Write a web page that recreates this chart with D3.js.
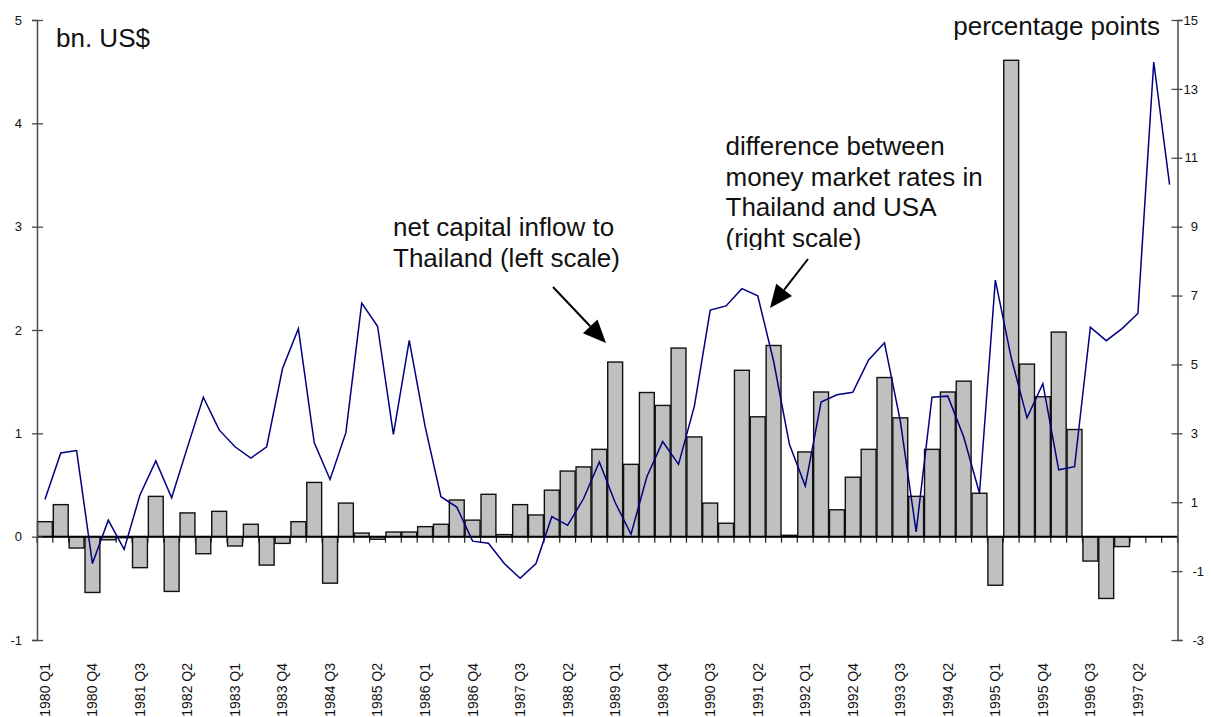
<!DOCTYPE html>
<html>
<head>
<meta charset="utf-8">
<script src="https://cdn.jsdelivr.net/npm/d3@7"></script>
<style>
  html, body { margin: 0; padding: 0; background: #fff; }
  svg { display: block; font-family: "Liberation Sans", Arial, Helvetica, sans-serif; }
</style>
</head>
<body>
<svg id="chart" width="1211" height="717"></svg>
<script>
// ---------------- data ----------------
const years = [1980, 1981, 1982, 1983, 1984, 1985, 1986, 1987, 1988,
               1989, 1990, 1991, 1992, 1993, 1994, 1995, 1996, 1997];
const quarterNames = ["Q1", "Q2", "Q3", "Q4"];
const categories = years.flatMap(y => quarterNames.map(q => y + " " + q));

// net capital inflow to Thailand, bn. US$ (left scale)
const capitalInflow = [
  0.145, 0.31, -0.11, -0.54,
  -0.03, -0.01, -0.30, 0.39,
  -0.53, 0.23, -0.165, 0.245,
  -0.09, 0.12, -0.275, -0.065,
  0.145, 0.525, -0.45, 0.325,
  0.035, -0.025, 0.045, 0.045,
  0.097, 0.12, 0.355, 0.16,
  0.41, 0.02, 0.31, 0.21,
  0.45, 0.635, 0.675, 0.845,
  1.69, 0.70, 1.395, 1.27,
  1.825, 0.965, 0.325, 0.13,
  1.61, 1.16, 1.85, 0.013,
  0.82, 1.40, 0.26, 0.575,
  0.845, 1.54, 1.15, 0.39,
  0.845, 1.40, 1.505, 0.42,
  -0.47, 4.61, 1.67, 1.354,
  1.98, 1.037, -0.236, -0.598,
  -0.096, 0, 0, 0
];

// difference between money market rates in Thailand and USA, percentage points (right scale)
const rateDifference = [
  1.08, 2.43, 2.5, -0.78,
  0.48, -0.37, 1.21, 2.2,
  1.13, 2.6, 4.05, 3.1,
  2.61, 2.28, 2.61, 4.88,
  6.04, 2.73, 1.66, 3.02,
  6.78, 6.11, 2.97, 5.7,
  3.2, 1.16, 0.86, -0.13,
  -0.19, -0.78, -1.21, -0.78,
  0.58, 0.33, 1.1, 2.17,
  0.99, 0.07, 1.74, 2.76,
  2.1, 3.79, 6.58, 6.7,
  7.2, 6.99, 5.1, 2.68,
  1.47, 3.91, 4.12, 4.19,
  5.13, 5.63, 3.36, 0.14,
  4.05, 4.08, 2.9, 1.26,
  7.45, 5.2, 3.45, 4.44,
  1.94, 2.03, 6.08, 5.69,
  6.04, 6.48, 13.78, 10.22
];

const leftTicks = [-1, 0, 1, 2, 3, 4, 5];
const rightTicks = [-3, -1, 1, 3, 5, 7, 9, 11, 13, 15];
const leftUnit = "bn. US$";
const rightUnit = "percentage points";
const annotationBars = ["net capital inflow to", "Thailand (left scale)"];
const annotationLine = ["difference between", "money market rates in", "Thailand and USA", "(right scale)"];

// ---------------- layout ----------------
const svg = d3.select("#chart");
const X0 = 37, X1 = 1177.5, Y0 = 20, Y1 = 640;
const axisColor = "#4a4a4a";
const plainNumber = d => String(d);   // hyphen-minus as in the original

const x = d3.scaleBand().domain(categories).range([X0, X1]).padding(0);
const xBar = d3.scaleBand().domain(categories).range([X0, X1]).paddingInner(0.06).paddingOuter(0.03);
const yL = d3.scaleLinear().domain([-1, 5]).range([Y1, Y0]);
const yR = d3.scaleLinear().domain([-3, 15]).range([Y1, Y0]);

const rows = categories.map((c, i) => ({ c, i, bar: capitalInflow[i], rate: rateDifference[i] }));

// bars
svg.append("g").selectAll("rect")
  .data(rows.filter(d => d.bar !== 0))
  .join("rect")
  .attr("x", d => xBar(d.c))
  .attr("width", xBar.bandwidth())
  .attr("y", d => Math.min(yL(d.bar), yL(0)))
  .attr("height", d => Math.abs(yL(d.bar) - yL(0)))
  .attr("fill", "#c0c0c0")
  .attr("stroke", "#111")
  .attr("stroke-width", 1.4);

// zero line with category ticks
const boundaries = categories.map(c => x(c)).concat([X1]);
svg.append("g").selectAll("line")
  .data(boundaries)
  .join("line")
  .attr("x1", d => d).attr("x2", d => d)
  .attr("y1", yL(0)).attr("y2", yL(0) + 6)
  .attr("stroke", "#222").attr("stroke-width", 1.2);
svg.append("line")
  .attr("x1", X0).attr("x2", X1)
  .attr("y1", yL(0)).attr("y2", yL(0))
  .attr("stroke", "#000").attr("stroke-width", 2);

// rate line
const line = d3.line()
  .x(d => x(d.c) + x.bandwidth() / 2)
  .y(d => yR(d.rate));
svg.append("path")
  .datum(rows)
  .attr("d", line)
  .attr("fill", "none")
  .attr("stroke", "#000080")
  .attr("stroke-width", 1.5)
  .attr("stroke-linejoin", "miter");

// left axis
const gL = svg.append("g").attr("transform", `translate(${X0},0)`)
  .call(d3.axisLeft(yL).tickValues(leftTicks).tickSize(5).tickPadding(10).tickFormat(plainNumber));
gL.select(".domain").attr("stroke", axisColor).attr("stroke-width", 1.5);
gL.selectAll(".tick line").attr("x1", 6).attr("stroke", axisColor).attr("stroke-width", 1.3);
gL.selectAll(".tick text").attr("font-size", 13).attr("fill", "#111")
  .attr("font-family", "Liberation Sans, Arial, sans-serif");

// right axis
const gR = svg.append("g").attr("transform", `translate(${X1},0)`)
  .call(d3.axisRight(yR).tickValues(rightTicks).tickSize(5).tickPadding(8).tickFormat(plainNumber));
gR.select(".domain").attr("stroke", axisColor).attr("stroke-width", 1.5);
gR.selectAll(".tick line").attr("x1", -6).attr("stroke", axisColor).attr("stroke-width", 1.3);
gR.selectAll(".tick text").attr("font-size", 13).attr("fill", "#111")
  .attr("font-family", "Liberation Sans, Arial, sans-serif")
  .attr("text-anchor", "end")
  .attr("x", d => d < 0 ? 26.5 : 20.5);

// x labels (every third quarter)
svg.append("g").selectAll("text")
  .data(categories.filter((c, i) => i % 3 === 0))
  .join("text")
  .attr("transform", c => `translate(${x(c) + x.bandwidth() / 2},663) rotate(-90)`)
  .attr("text-anchor", "end")
  .attr("dy", "0.35em")
  .attr("font-size", 14)
  .attr("fill", "#111")
  .text(c => c);

// unit labels
svg.append("text").attr("x", 56).attr("y", 47).attr("font-size", 26).attr("fill", "#111").text(leftUnit);
svg.append("text").attr("x", 1160).attr("y", 35).attr("text-anchor", "end").attr("font-size", 26).attr("fill", "#111").text(rightUnit);

// annotations
svg.append("g").selectAll("text")
  .data(annotationBars).join("text")
  .attr("x", 393).attr("y", (d, i) => 236 + i * 30.5)
  .attr("font-size", 26).attr("fill", "#111").text(d => d);

svg.append("defs").append("clipPath").attr("id", "annoClip")
  .append("rect").attr("x", 700).attr("y", 100).attr("width", 300).attr("height", 150);
svg.append("g").attr("clip-path", "url(#annoClip)").selectAll("text")
  .data(annotationLine).join("text")
  .attr("x", 725.5).attr("y", (d, i) => 155 + i * 30.6)
  .attr("font-size", 26).attr("fill", "#111").text(d => d);

// arrows
function arrow(x1, y1, x2, y2) {
  const ang = Math.atan2(y2 - y1, x2 - x1);
  const len = 23, half = 10;
  const bx = x2 - len * Math.cos(ang), by = y2 - len * Math.sin(ang);
  svg.append("line").attr("x1", x1).attr("y1", y1).attr("x2", bx).attr("y2", by)
    .attr("stroke", "#000").attr("stroke-width", 2);
  const px = -Math.sin(ang) * half, py = Math.cos(ang) * half;
  svg.append("path")
    .attr("d", `M${x2},${y2}L${bx + px},${by + py}L${bx - px},${by - py}Z`)
    .attr("fill", "#000");
}
arrow(553, 287, 606, 343);
arrow(808, 259, 770, 308);
</script>
</body>
</html>
